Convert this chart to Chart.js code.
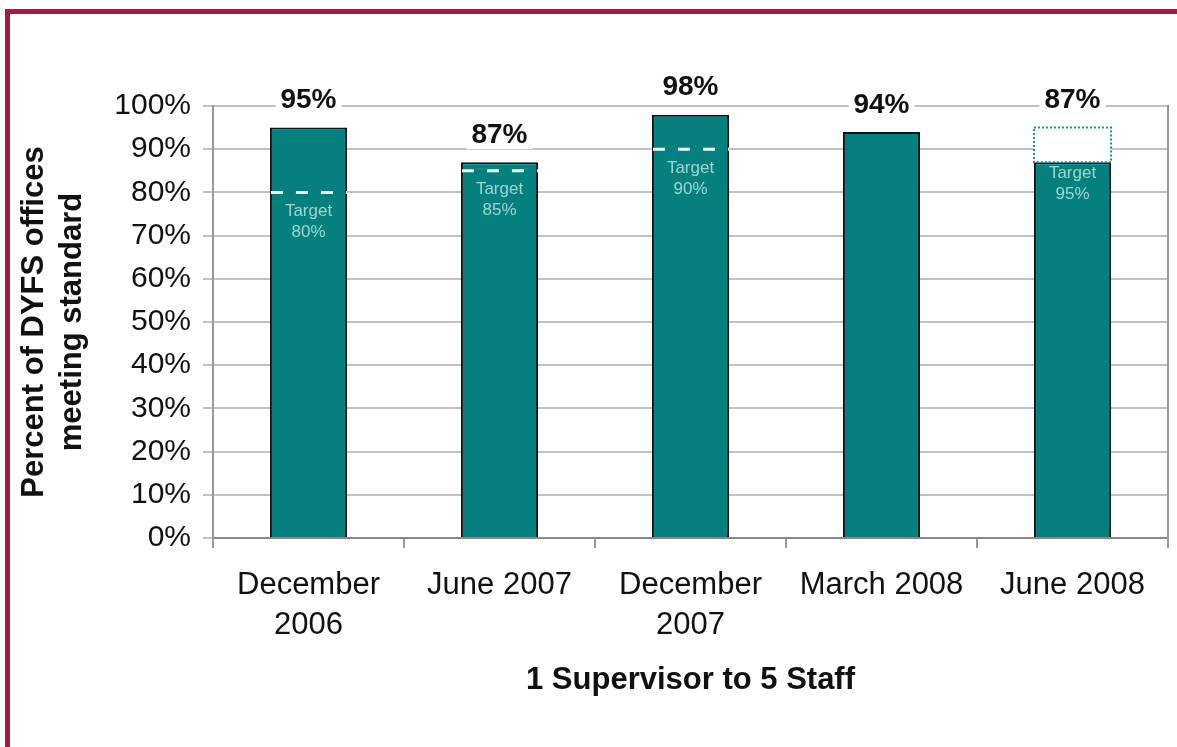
<!DOCTYPE html>
<html>
<head>
<meta charset="utf-8">
<script src="https://cdn.jsdelivr.net/npm/chart.js"></script>
<style>
  html, body { margin: 0; padding: 0; background: #fff; }
  #wrap { position: relative; width: 1177px; height: 747px; }
  #frame {
    position: absolute; left: 5px; top: 9px; right: 0; bottom: 0;
    border-top: 5px solid #a51b3d; border-left: 5px solid #a51b3d;
    pointer-events: none;
  }
</style>
</head>
<body>
<div id="wrap">
  <canvas id="chart" width="1177" height="747"></canvas>
  <div id="frame"></div>
</div>
<script>
// values
const periods = [['December', '2006'], 'June 2007', ['December', '2007'], 'March 2008', 'June 2008'];
const percentMeeting = [95, 87, 98, 94, 87];
const targets = [80, 85, 90, null, 95];
const yTicks = [0, 10, 20, 30, 40, 50, 60, 70, 80, 90, 100];

const TEAL = '#067f7f';
const FONT = "'Liberation Sans', Arial, sans-serif";

// target markers: dashed line inside the bar, or a dotted box when target is above the bar
const targetPlugin = {
  id: 'targets',
  afterDatasetsDraw(chart) {
    const ctx = chart.ctx;
    const y = chart.scales.y;
    const meta = chart.getDatasetMeta(0);
    meta.data.forEach((bar, i) => {
      const t = targets[i];
      if (t == null) return;
      const left = bar.x - bar.width / 2;
      const right = bar.x + bar.width / 2;
      const ty = y.getPixelForValue(t);
      const vy = y.getPixelForValue(percentMeeting[i]);
      let textY;
      ctx.save();
      if (t > percentMeeting[i]) {
        ctx.fillStyle = '#fff';
        ctx.fillRect(left, ty, right - left, vy - ty);
        ctx.strokeStyle = '#1a8c8c';
        ctx.lineWidth = 2;
        ctx.setLineDash([2, 2]);
        ctx.strokeRect(left, ty, right - left, vy - ty);
        textY = vy + 11;
      } else {
        ctx.strokeStyle = '#e6ffff';
        ctx.lineWidth = 3;
        ctx.setLineDash([12, 13]);
        ctx.beginPath();
        ctx.moveTo(left + 1, ty);
        ctx.lineTo(right, ty);
        ctx.stroke();
        textY = ty + 19;
      }
      ctx.setLineDash([]);
      ctx.fillStyle = '#9ed6d2';
      ctx.font = '17px ' + FONT;
      ctx.textAlign = 'center';
      ctx.textBaseline = 'middle';
      ctx.fillText('Target', bar.x, textY);
      ctx.fillText(t + '%', bar.x, textY + 21);
      ctx.restore();
    });
  }
};

// value labels above the bars, on a white patch that hides the gridline
const valueLabels = {
  id: 'valueLabels',
  afterDatasetsDraw(chart) {
    const ctx = chart.ctx;
    const y = chart.scales.y;
    const meta = chart.getDatasetMeta(0);
    ctx.save();
    ctx.font = 'bold 28px ' + FONT;
    ctx.textAlign = 'center';
    ctx.textBaseline = 'middle';
    meta.data.forEach((bar, i) => {
      const top = Math.max(percentMeeting[i], targets[i] || 0);
      const ly = y.getPixelForValue(top) - 27;
      const txt = percentMeeting[i] + '%';
      const w = ctx.measureText(txt).width + 10;
      ctx.fillStyle = '#fff';
      ctx.fillRect(bar.x - w / 2, ly - 14, w, 28);
      ctx.fillStyle = '#111';
      ctx.fillText(txt, bar.x, ly);
    });
    ctx.restore();
  }
};

new Chart(document.getElementById('chart'), {
  type: 'bar',
  data: {
    labels: periods,
    datasets: [{
      data: percentMeeting,
      backgroundColor: TEAL,
      borderColor: '#111',
      borderWidth: 2,
      borderSkipped: 'bottom',
      categoryPercentage: 1,
      barPercentage: 0.404
    }]
  },
  options: {
    responsive: false,
    animation: false,
    layout: { padding: { left: 14, right: 9, top: 106, bottom: 0 } },
    plugins: { legend: { display: false }, tooltip: { enabled: false } },
    scales: {
      x: {
        afterFit: s => { s.height = 209; },
        grid: { drawOnChartArea: false, drawTicks: true, tickLength: 10, color: '#999', lineWidth: 2 },
        border: { color: '#888', width: 2 },
        ticks: {
          color: '#111', padding: 17,
          font: { family: FONT, size: 31, lineHeight: 1.29 },
          maxRotation: 0, autoSkip: false
        },
        title: {
          display: true, text: '1 Supervisor to 5 Staff', color: '#111',
          font: { family: FONT, size: 31, weight: 'bold', lineHeight: 1.2 },
          padding: { top: 4, bottom: 48 }
        }
      },
      y: {
        min: 0, max: 100,
        afterFit: s => { s.width = 199; },
        afterBuildTicks: s => { s.ticks = yTicks.map(v => ({ value: v })); },
        grid: { color: '#c2c2c2', lineWidth: 2, tickLength: 10 },
        border: { color: '#999', width: 2 },
        ticks: {
          color: '#111', padding: 12,
          font: { family: FONT, size: 30 },
          callback: v => v + '%'
        },
        title: {
          display: true, text: ['Percent of DYFS offices', 'meeting standard'], color: '#111',
          font: { family: FONT, size: 31, weight: 'bold', lineHeight: 1.22 },
          padding: { top: 2, bottom: 0 }
        }
      },
      y2: {
        position: 'right', min: 0, max: 100,
        afterFit: s => { s.width = 0; },
        grid: { drawOnChartArea: false, drawTicks: false },
        border: { color: '#999', width: 2 },
        ticks: { display: false }
      }
    }
  },
  plugins: [targetPlugin, valueLabels]
});
</script>
</body>
</html>
